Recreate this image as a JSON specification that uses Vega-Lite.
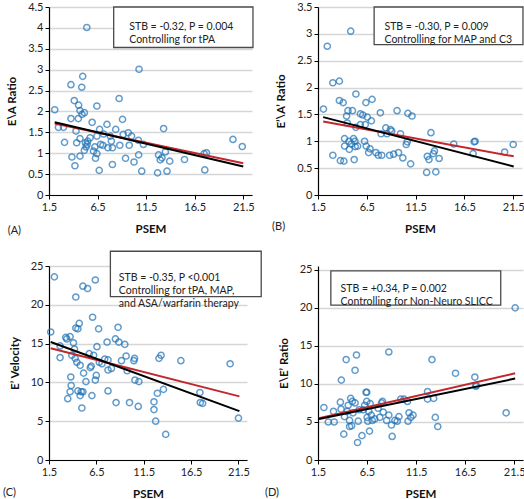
{
  "$schema": "https://vega.github.io/schema/vega-lite/v6.json",
  "padding": {"left": 2, "top": 1, "right": 2, "bottom": 0},
  "background": "white",
  "config": {
    "view": {"stroke": null},
    "font": "Lato",
    "axis": {"labelFont": "Lato", "labelFontSize": 11, "labelColor": "#222", "labelOverlap": false, "labelFlush": false, "titleFont": "Lato", "titleFontSize": 11.5, "titleFontWeight": "bold", "titleColor": "#111", "domainColor": "#000", "domainWidth": 1.2, "tickColor": "#000", "tickSize": 4, "gridColor": "#d6d6d6", "gridWidth": 1.5},
    "axisX": {"grid": false, "titlePadding": 11},
    "axisY": {"titlePadding": 10},
    "text": {"font": "Lato", "color": "#222"}
  },
  "columns": 2,
  "align": "each",
  "bounds": "flush",
  "spacing": {"row": 71, "column": 66},
  "datasets": {
    "a": [{"psem":5.39,"value":4.01},{"psem":2.09,"value":2.04},{"psem":2.47,"value":1.62},{"psem":2.99,"value":1.62},{"psem":3.10,"value":1.26},{"psem":3.76,"value":2.64},{"psem":3.76,"value":1.83},{"psem":3.86,"value":0.91},{"psem":4.10,"value":2.26},{"psem":4.17,"value":0.70},{"psem":4.28,"value":1.53},{"psem":4.35,"value":1.25},{"psem":4.55,"value":2.15},{"psem":4.52,"value":1.83},{"psem":4.69,"value":1.35},{"psem":4.69,"value":2.02},{"psem":4.69,"value":0.93},{"psem":4.87,"value":2.58},{"psem":4.97,"value":2.84},{"psem":4.90,"value":1.93},{"psem":5.14,"value":1.97},{"psem":5.14,"value":1.07},{"psem":5.25,"value":1.25},{"psem":5.32,"value":1.15},{"psem":5.49,"value":1.29},{"psem":5.42,"value":1.21},{"psem":5.73,"value":1.37},{"psem":5.94,"value":1.74},{"psem":6.08,"value":1.05},{"psem":6.22,"value":1.15},{"psem":6.29,"value":0.88},{"psem":6.43,"value":2.13},{"psem":6.43,"value":1.41},{"psem":6.43,"value":0.99},{"psem":6.67,"value":0.59},{"psem":6.71,"value":1.57},{"psem":6.81,"value":1.21},{"psem":7.05,"value":1.19},{"psem":7.12,"value":1.46},{"psem":7.47,"value":1.69},{"psem":7.57,"value":1.13},{"psem":7.82,"value":1.41},{"psem":7.92,"value":1.29},{"psem":8.03,"value":1.13},{"psem":8.03,"value":0.73},{"psem":8.37,"value":1.57},{"psem":8.72,"value":2.31},{"psem":8.79,"value":1.19},{"psem":9.07,"value":1.81},{"psem":9.14,"value":1.45},{"psem":9.38,"value":0.88},{"psem":9.66,"value":1.49},{"psem":9.76,"value":1.19},{"psem":10.0,"value":1.41},{"psem":10.25,"value":0.79},{"psem":10.70,"value":1.31},{"psem":10.73,"value":0.96},{"psem":10.77,"value":3.01},{"psem":11.05,"value":0.57},{"psem":11.22,"value":1.21},{"psem":12.68,"value":0.53},{"psem":12.78,"value":0.96},{"psem":12.95,"value":0.84},{"psem":13.13,"value":0.89},{"psem":13.30,"value":1.59},{"psem":13.48,"value":1.03},{"psem":13.65,"value":0.57},{"psem":13.93,"value":0.81},{"psem":15.45,"value":0.85},{"psem":17.47,"value":0.99},{"psem":17.71,"value":1.01},{"psem":17.54,"value":0.60},{"psem":20.44,"value":1.33},{"psem":21.4,"value":1.16}],
    "aFit": [{"psem":2.09,"value":1.71,"fit":"Adjusted"},{"psem":21.5,"value":0.76,"fit":"Adjusted"},{"psem":2.09,"value":1.74,"fit":"Unadjusted"},{"psem":21.5,"value":0.68,"fit":"Unadjusted"}],
    "b": [{"psem":2.06,"value":1.60},{"psem":2.45,"value":2.77},{"psem":3.02,"value":2.09},{"psem":3.02,"value":0.74},{"psem":3.69,"value":2.12},{"psem":3.69,"value":1.76},{"psem":3.79,"value":0.64},{"psem":4.08,"value":1.72},{"psem":4.15,"value":0.63},{"psem":4.22,"value":1.05},{"psem":4.22,"value":0.91},{"psem":4.43,"value":1.47},{"psem":4.50,"value":1.34},{"psem":4.57,"value":1.57},{"psem":4.68,"value":1.00},{"psem":4.71,"value":0.85},{"psem":4.85,"value":3.05},{"psem":4.92,"value":0.95},{"psem":5.03,"value":1.57},{"psem":5.14,"value":1.05},{"psem":5.21,"value":0.66},{"psem":5.28,"value":1.00},{"psem":5.31,"value":0.90},{"psem":5.38,"value":1.88},{"psem":5.38,"value":1.26},{"psem":5.56,"value":0.91},{"psem":5.84,"value":1.51},{"psem":5.84,"value":1.31},{"psem":6.09,"value":1.49},{"psem":6.27,"value":1.00},{"psem":6.34,"value":1.31},{"psem":6.41,"value":1.72},{"psem":6.44,"value":0.91},{"psem":6.55,"value":1.45},{"psem":6.69,"value":0.79},{"psem":6.83,"value":0.86},{"psem":6.97,"value":1.38},{"psem":7.04,"value":1.78},{"psem":7.43,"value":0.79},{"psem":7.68,"value":0.74},{"psem":7.89,"value":1.53},{"psem":7.96,"value":1.14},{"psem":8.03,"value":0.74},{"psem":8.45,"value":1.25},{"psem":8.56,"value":1.14},{"psem":8.84,"value":0.74},{"psem":8.91,"value":1.22},{"psem":9.05,"value":1.19},{"psem":9.25,"value":0.76},{"psem":9.60,"value":1.57},{"psem":9.75,"value":0.79},{"psem":9.95,"value":1.14},{"psem":10.19,"value":0.69},{"psem":10.54,"value":0.94},{"psem":10.64,"value":0.99},{"psem":10.71,"value":1.52},{"psem":10.99,"value":0.58},{"psem":11.13,"value":1.47},{"psem":12.63,"value":0.42},{"psem":12.70,"value":0.72},{"psem":12.87,"value":0.66},{"psem":13.07,"value":1.16},{"psem":13.32,"value":0.77},{"psem":13.43,"value":0.82},{"psem":13.57,"value":0.43},{"psem":13.91,"value":0.68},{"psem":15.41,"value":0.95},{"psem":17.5,"value":0.99},{"psem":17.6,"value":1.00},{"psem":17.39,"value":0.77},{"psem":20.62,"value":0.80},{"psem":21.5,"value":0.94}],
    "bFit": [{"psem":2.03,"value":1.37,"fit":"Adjusted"},{"psem":21.55,"value":0.72,"fit":"Adjusted"},{"psem":2.03,"value":1.45,"fit":"Unadjusted"},{"psem":21.55,"value":0.53,"fit":"Unadjusted"}],
    "c": [{"psem":1.68,"value":16.5},{"psem":2.07,"value":23.6},{"psem":2.67,"value":14.7},{"psem":2.67,"value":13.2},{"psem":3.27,"value":15.8},{"psem":3.38,"value":15.6},{"psem":3.48,"value":7.9},{"psem":3.73,"value":15.9},{"psem":3.80,"value":10.7},{"psem":3.73,"value":8.8},{"psem":3.84,"value":9.6},{"psem":3.91,"value":13.5},{"psem":4.08,"value":15.1},{"psem":4.19,"value":14.3},{"psem":4.26,"value":13.1},{"psem":4.33,"value":21.0},{"psem":4.33,"value":17.0},{"psem":4.44,"value":12.6},{"psem":4.55,"value":16.9},{"psem":4.55,"value":8.9},{"psem":4.69,"value":17.6},{"psem":4.79,"value":12.2},{"psem":4.79,"value":8.3},{"psem":4.90,"value":8.8},{"psem":4.97,"value":6.7},{"psem":5.08,"value":22.4},{"psem":5.08,"value":8.8},{"psem":5.15,"value":11.2},{"psem":5.40,"value":10.1},{"psem":5.57,"value":22.1},{"psem":5.75,"value":13.7},{"psem":5.86,"value":11.9},{"psem":5.96,"value":12.1},{"psem":6.03,"value":8.3},{"psem":6.10,"value":18.4},{"psem":6.21,"value":13.5},{"psem":6.39,"value":23.2},{"psem":6.39,"value":10.3},{"psem":6.49,"value":10.9},{"psem":6.56,"value":14.6},{"psem":6.74,"value":16.9},{"psem":6.81,"value":12.6},{"psem":7.09,"value":12.4},{"psem":7.38,"value":13.0},{"psem":7.63,"value":15.2},{"psem":7.73,"value":12.9},{"psem":7.73,"value":11.6},{"psem":7.73,"value":8.9},{"psem":8.09,"value":11.8},{"psem":8.51,"value":15.6},{"psem":8.58,"value":7.4},{"psem":8.79,"value":17.1},{"psem":8.87,"value":15.2},{"psem":9.15,"value":12.8},{"psem":9.50,"value":14.9},{"psem":9.64,"value":13.4},{"psem":9.75,"value":11.5},{"psem":10.0,"value":7.4},{"psem":10.46,"value":12.8},{"psem":10.53,"value":13.1},{"psem":10.57,"value":10.3},{"psem":10.92,"value":6.9},{"psem":10.99,"value":10.1},{"psem":12.58,"value":7.5},{"psem":12.58,"value":6.5},{"psem":12.76,"value":5.0},{"psem":12.94,"value":8.6},{"psem":13.11,"value":13.1},{"psem":13.33,"value":13.5},{"psem":13.58,"value":9.1},{"psem":13.82,"value":3.3},{"psem":15.42,"value":12.8},{"psem":17.43,"value":8.7},{"psem":17.47,"value":7.4},{"psem":17.72,"value":7.3},{"psem":20.62,"value":12.4},{"psem":21.5,"value":5.4}],
    "cFit": [{"psem":1.68,"value":14.4,"fit":"Adjusted"},{"psem":21.6,"value":8.2,"fit":"Adjusted"},{"psem":1.68,"value":15.2,"fit":"Unadjusted"},{"psem":21.6,"value":6.3,"fit":"Unadjusted"}],
    "d": [{"psem":2.10,"value":6.9},{"psem":2.55,"value":5.0},{"psem":3.08,"value":6.4},{"psem":3.15,"value":5.0},{"psem":3.78,"value":7.6},{"psem":3.85,"value":6.7},{"psem":3.88,"value":10.5},{"psem":4.13,"value":3.4},{"psem":4.20,"value":5.7},{"psem":4.37,"value":13.2},{"psem":4.48,"value":6.4},{"psem":4.58,"value":7.2},{"psem":4.72,"value":5.2},{"psem":4.72,"value":4.4},{"psem":4.83,"value":8.1},{"psem":4.93,"value":4.5},{"psem":5.00,"value":7.7},{"psem":5.07,"value":6.2},{"psem":5.28,"value":7.5},{"psem":5.28,"value":11.8},{"psem":5.42,"value":13.8},{"psem":5.53,"value":2.3},{"psem":5.60,"value":5.1},{"psem":5.70,"value":6.6},{"psem":5.98,"value":3.2},{"psem":6.12,"value":6.6},{"psem":6.26,"value":7.2},{"psem":6.40,"value":8.9},{"psem":6.47,"value":8.9},{"psem":6.47,"value":7.7},{"psem":6.51,"value":5.6},{"psem":6.58,"value":5.1},{"psem":6.68,"value":6.4},{"psem":6.75,"value":3.8},{"psem":6.82,"value":7.4},{"psem":6.93,"value":5.9},{"psem":7.03,"value":5.2},{"psem":7.28,"value":5.4},{"psem":7.63,"value":6.8},{"psem":7.80,"value":5.6},{"psem":7.98,"value":7.5},{"psem":8.08,"value":7.7},{"psem":8.15,"value":6.3},{"psem":8.50,"value":5.2},{"psem":8.72,"value":14.2},{"psem":8.72,"value":5.9},{"psem":8.99,"value":4.6},{"psem":9.06,"value":3.1},{"psem":9.34,"value":5.2},{"psem":9.58,"value":5.1},{"psem":9.75,"value":5.7},{"psem":9.93,"value":8.0},{"psem":10.27,"value":8.0},{"psem":10.62,"value":7.7},{"psem":10.68,"value":5.1},{"psem":10.78,"value":6.2},{"psem":10.96,"value":5.6},{"psem":11.19,"value":5.9},{"psem":12.67,"value":9.0},{"psem":12.67,"value":8.0},{"psem":13.12,"value":13.2},{"psem":13.29,"value":8.1},{"psem":13.46,"value":5.6},{"psem":13.71,"value":4.4},{"psem":15.52,"value":11.4},{"psem":17.49,"value":10.9},{"psem":17.58,"value":9.7},{"psem":17.65,"value":9.8},{"psem":20.68,"value":6.2},{"psem":21.6,"value":20.0}],
    "dFit": [{"psem":1.6,"value":5.5,"fit":"Adjusted"},{"psem":21.6,"value":11.4,"fit":"Adjusted"},{"psem":1.6,"value":5.4,"fit":"Unadjusted"},{"psem":21.6,"value":10.7,"fit":"Unadjusted"}]
  },
  "concat": [
    {
      "width": 203, "height": 188,
      "layer": [
        {"data": {"name": "a"}, "mark": {"type": "point", "shape": "circle", "filled": false, "size": 38, "strokeWidth": 1.5, "color": "#1f72b6", "clip": false},
         "encoding": {
           "x": {"field": "psem", "type": "quantitative", "scale": {"domain": [1.5, 22.4], "nice": false, "zero": false}, "axis": {"values": [1.5, 6.5, 11.5, 16.5, 21.5], "format": ".1f", "title": "PSEM"}},
           "y": {"field": "value", "type": "quantitative", "scale": {"domain": [0, 4.5], "nice": false}, "axis": {"values": [0, 0.5, 1, 1.5, 2, 2.5, 3, 3.5, 4, 4.5], "format": "~g", "title": "E\\A Ratio"}}}},
        {"data": {"name": "aFit"}, "mark": {"type": "line", "strokeWidth": 2},
         "encoding": {"x": {"field": "psem", "type": "quantitative", "axis": {"values": [1.5, 6.5, 11.5, 16.5, 21.5], "format": ".1f", "title": "PSEM"}}, "y": {"field": "value", "type": "quantitative", "axis": {"values": [0, 0.5, 1, 1.5, 2, 2.5, 3, 3.5, 4, 4.5], "format": "~g", "title": "E\\A Ratio"}}, "color": {"field": "fit", "type": "nominal", "scale": {"domain": ["Adjusted", "Unadjusted"], "range": ["#c1272d", "#000000"]}, "legend": null}}},
        {"data": {"values": [{}]}, "mark": {"type": "rect", "fill": "white", "stroke": "#4a4a4a", "strokeWidth": 1.3, "clip": false},
         "encoding": {"x": {"datum": 8.16, "axis": {"values": [1.5, 6.5, 11.5, 16.5, 21.5], "format": ".1f", "title": "PSEM"}}, "x2": {"datum": 22.5}, "y": {"datum": 4.5, "axis": {"values": [0, 0.5, 1, 1.5, 2, 2.5, 3, 3.5, 4, 4.5], "format": "~g", "title": "E\\A Ratio"}}, "y2": {"datum": 3.53}}},
        {"data": {"values": [{}]}, "mark": {"type": "text", "align": "left", "baseline": "middle", "fontSize": 10.5, "lineHeight": 13, "text": ["STB = -0.32, P = 0.004", "Controlling for tPA"]},
         "encoding": {"x": {"datum": 9.76, "axis": {"values": [1.5, 6.5, 11.5, 16.5, 21.5], "format": ".1f", "title": "PSEM"}}, "y": {"datum": 4.01, "axis": {"values": [0, 0.5, 1, 1.5, 2, 2.5, 3, 3.5, 4, 4.5], "format": "~g", "title": "E\\A Ratio"}}}},
        {"data": {"values": [{}]}, "mark": {"type": "text", "align": "left", "baseline": "middle", "fontSize": 11, "text": "(A)"},
         "encoding": {"x": {"datum": -2.75, "axis": {"values": [1.5, 6.5, 11.5, 16.5, 21.5], "format": ".1f", "title": "PSEM"}}, "y": {"datum": -0.86, "axis": {"values": [0, 0.5, 1, 1.5, 2, 2.5, 3, 3.5, 4, 4.5], "format": "~g", "title": "E\\A Ratio"}}}}
      ]
    },
    {
      "width": 204, "height": 188,
      "layer": [
        {"data": {"name": "b"}, "mark": {"type": "point", "shape": "circle", "filled": false, "size": 38, "strokeWidth": 1.5, "color": "#1f72b6", "clip": false},
         "encoding": {
           "x": {"field": "psem", "type": "quantitative", "scale": {"domain": [1.5, 22.4], "nice": false, "zero": false}, "axis": {"values": [1.5, 6.5, 11.5, 16.5, 21.5], "format": ".1f", "title": "PSEM"}},
           "y": {"field": "value", "type": "quantitative", "scale": {"domain": [0, 3.5], "nice": false}, "axis": {"values": [0, 0.5, 1, 1.5, 2, 2.5, 3, 3.5], "format": "~g", "title": "E’\\A’ Ratio"}}}},
        {"data": {"name": "bFit"}, "mark": {"type": "line", "strokeWidth": 2},
         "encoding": {"x": {"field": "psem", "type": "quantitative", "axis": {"values": [1.5, 6.5, 11.5, 16.5, 21.5], "format": ".1f", "title": "PSEM"}}, "y": {"field": "value", "type": "quantitative", "axis": {"values": [0, 0.5, 1, 1.5, 2, 2.5, 3, 3.5], "format": "~g", "title": "E’\\A’ Ratio"}}, "color": {"field": "fit", "type": "nominal", "scale": {"domain": ["Adjusted", "Unadjusted"], "range": ["#c1272d", "#000000"]}, "legend": null}}},
        {"data": {"values": [{}]}, "mark": {"type": "rect", "fill": "white", "stroke": "#4a4a4a", "strokeWidth": 1.3, "clip": false},
         "encoding": {"x": {"datum": 7.25, "axis": {"values": [1.5, 6.5, 11.5, 16.5, 21.5], "format": ".1f", "title": "PSEM"}}, "x2": {"datum": 22.5}, "y": {"datum": 3.5, "axis": {"values": [0, 0.5, 1, 1.5, 2, 2.5, 3, 3.5], "format": "~g", "title": "E’\\A’ Ratio"}}, "y2": {"datum": 2.8}}},
        {"data": {"values": [{}]}, "mark": {"type": "text", "align": "left", "baseline": "middle", "fontSize": 10.5, "lineHeight": 13, "text": ["STB = -0.30, P = 0.009", "Controlling for MAP and C3"]},
         "encoding": {"x": {"datum": 8.31, "axis": {"values": [1.5, 6.5, 11.5, 16.5, 21.5], "format": ".1f", "title": "PSEM"}}, "y": {"datum": 3.13, "axis": {"values": [0, 0.5, 1, 1.5, 2, 2.5, 3, 3.5], "format": "~g", "title": "E’\\A’ Ratio"}}}},
        {"data": {"values": [{}]}, "mark": {"type": "text", "align": "left", "baseline": "middle", "fontSize": 11, "text": "(B)"},
         "encoding": {"x": {"datum": -3.2, "axis": {"values": [1.5, 6.5, 11.5, 16.5, 21.5], "format": ".1f", "title": "PSEM"}}, "y": {"datum": -0.6, "axis": {"values": [0, 0.5, 1, 1.5, 2, 2.5, 3, 3.5], "format": "~g", "title": "E’\\A’ Ratio"}}}}
      ]
    },
    {
      "width": 198, "height": 194,
      "layer": [
        {"data": {"name": "c"}, "mark": {"type": "point", "shape": "circle", "filled": false, "size": 38, "strokeWidth": 1.5, "color": "#1f72b6", "clip": false},
         "encoding": {
           "x": {"field": "psem", "type": "quantitative", "scale": {"domain": [1.5, 22.4], "nice": false, "zero": false}, "axis": {"values": [1.5, 6.5, 11.5, 16.5, 21.5], "format": ".1f", "title": "PSEM"}},
           "y": {"field": "value", "type": "quantitative", "scale": {"domain": [0, 25], "nice": false}, "axis": {"values": [0, 5, 10, 15, 20, 25], "format": "d", "title": "E’ Velocity"}}}},
        {"data": {"name": "cFit"}, "mark": {"type": "line", "strokeWidth": 2},
         "encoding": {"x": {"field": "psem", "type": "quantitative", "axis": {"values": [1.5, 6.5, 11.5, 16.5, 21.5], "format": ".1f", "title": "PSEM"}}, "y": {"field": "value", "type": "quantitative", "axis": {"values": [0, 5, 10, 15, 20, 25], "format": "d", "title": "E’ Velocity"}}, "color": {"field": "fit", "type": "nominal", "scale": {"domain": ["Adjusted", "Unadjusted"], "range": ["#c1272d", "#000000"]}, "legend": null}}},
        {"data": {"values": [{}]}, "mark": {"type": "rect", "fill": "white", "stroke": "#4a4a4a", "strokeWidth": 1.3, "clip": false},
         "encoding": {"x": {"datum": 7.98, "axis": {"values": [1.5, 6.5, 11.5, 16.5, 21.5], "format": ".1f", "title": "PSEM"}}, "x2": {"datum": 23.9}, "y": {"datum": 26.9, "axis": {"values": [0, 5, 10, 15, 20, 25], "format": "d", "title": "E’ Velocity"}}, "y2": {"datum": 21.06}}},
        {"data": {"values": [{}]}, "mark": {"type": "text", "align": "left", "baseline": "middle", "fontSize": 10.5, "lineHeight": 13, "text": ["STB = -0.35, P <0.001", "Controlling for tPA, MAP,", "and ASA/warfarin therapy"]},
         "encoding": {"x": {"datum": 8.87, "axis": {"values": [1.5, 6.5, 11.5, 16.5, 21.5], "format": ".1f", "title": "PSEM"}}, "y": {"datum": 23.5, "axis": {"values": [0, 5, 10, 15, 20, 25], "format": "d", "title": "E’ Velocity"}}}},
        {"data": {"values": [{}]}, "mark": {"type": "text", "align": "left", "baseline": "middle", "fontSize": 11, "text": "(C)"},
         "encoding": {"x": {"datum": -3.36, "axis": {"values": [1.5, 6.5, 11.5, 16.5, 21.5], "format": ".1f", "title": "PSEM"}}, "y": {"datum": -4.3, "axis": {"values": [0, 5, 10, 15, 20, 25], "format": "d", "title": "E’ Velocity"}}}}
      ]
    },
    {
      "width": 205, "height": 194,
      "layer": [
        {"data": {"name": "d"}, "mark": {"type": "point", "shape": "circle", "filled": false, "size": 38, "strokeWidth": 1.5, "color": "#1f72b6", "clip": false},
         "encoding": {
           "x": {"field": "psem", "type": "quantitative", "scale": {"domain": [1.5, 22.4], "nice": false, "zero": false}, "axis": {"values": [1.5, 6.5, 11.5, 16.5, 21.5], "format": ".1f", "title": "PSEM"}},
           "y": {"field": "value", "type": "quantitative", "scale": {"domain": [0, 25.5], "nice": false}, "axis": {"values": [0, 5, 10, 15, 20, 25], "format": "d", "title": "E\\E’ Ratio"}}}},
        {"data": {"name": "dFit"}, "mark": {"type": "line", "strokeWidth": 2},
         "encoding": {"x": {"field": "psem", "type": "quantitative", "axis": {"values": [1.5, 6.5, 11.5, 16.5, 21.5], "format": ".1f", "title": "PSEM"}}, "y": {"field": "value", "type": "quantitative", "axis": {"values": [0, 5, 10, 15, 20, 25], "format": "d", "title": "E\\E’ Ratio"}}, "color": {"field": "fit", "type": "nominal", "scale": {"domain": ["Adjusted", "Unadjusted"], "range": ["#c1272d", "#000000"]}, "legend": null}}},
        {"data": {"values": [{}]}, "mark": {"type": "rect", "fill": "white", "stroke": "#4a4a4a", "strokeWidth": 1.3, "clip": false},
         "encoding": {"x": {"datum": 2.81, "axis": {"values": [1.5, 6.5, 11.5, 16.5, 21.5], "format": ".1f", "title": "PSEM"}}, "x2": {"datum": 20.13}, "y": {"datum": 24.87, "axis": {"values": [0, 5, 10, 15, 20, 25], "format": "d", "title": "E\\E’ Ratio"}}, "y2": {"datum": 20.37}}},
        {"data": {"values": [{}]}, "mark": {"type": "text", "align": "left", "baseline": "middle", "fontSize": 10.5, "lineHeight": 13, "text": ["STB = +0.34, P = 0.002", "Controlling for Non-Neuro SLICC"]},
         "encoding": {"x": {"datum": 3.8, "axis": {"values": [1.5, 6.5, 11.5, 16.5, 21.5], "format": ".1f", "title": "PSEM"}}, "y": {"datum": 22.5, "axis": {"values": [0, 5, 10, 15, 20, 25], "format": "d", "title": "E\\E’ Ratio"}}}},
        {"data": {"values": [{}]}, "mark": {"type": "text", "align": "left", "baseline": "middle", "fontSize": 11, "text": "(D)"},
         "encoding": {"x": {"datum": -3.9, "axis": {"values": [1.5, 6.5, 11.5, 16.5, 21.5], "format": ".1f", "title": "PSEM"}}, "y": {"datum": -4.3, "axis": {"values": [0, 5, 10, 15, 20, 25], "format": "d", "title": "E\\E’ Ratio"}}}}
      ]
    }
  ]
}
